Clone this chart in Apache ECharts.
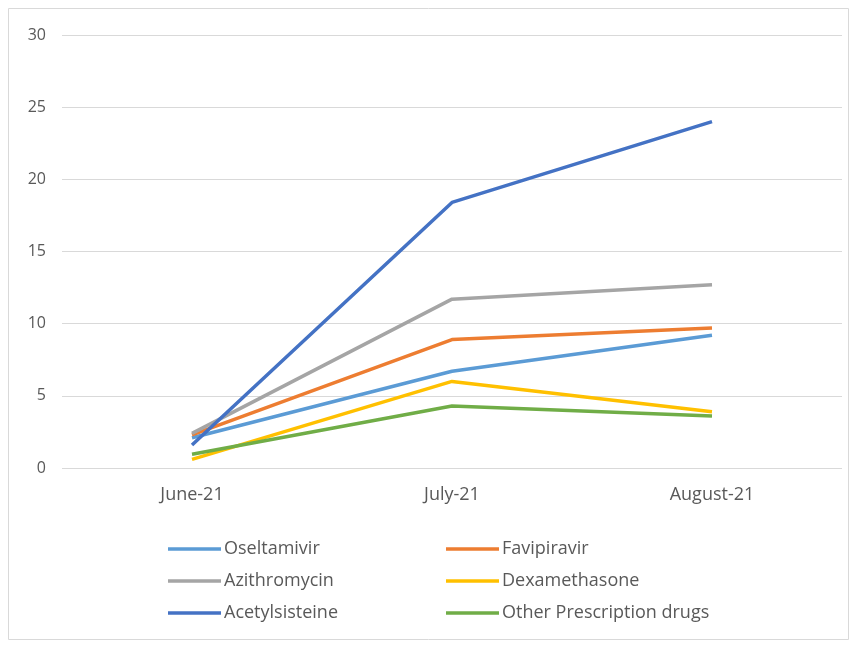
<!DOCTYPE html>
<html>
<head>
<meta charset="utf-8">
<script src="https://cdn.jsdelivr.net/npm/echarts@6/dist/echarts.min.js"></script>
<style>
html,body{margin:0;padding:0;background:#fff;}
#chart{width:857px;height:648px;}
</style>
</head>
<body>
<div id="chart"></div>
<script>
var categories = ['June-21', 'July-21', 'August-21'];
var yTicks = [0, 5, 10, 15, 20, 25, 30];
var oseltamivir = [2.1, 6.7, 9.2];
var favipiravir = [2.3, 8.9, 9.7];
var azithromycin = [2.4, 11.7, 12.7];
var dexamethasone = [0.6, 6.0, 3.9];
var acetylsisteine = [1.6, 18.4, 24.0];
var otherDrugs = [0.95, 4.3, 3.6];

var seriesNames = ['Oseltamivir', 'Favipiravir', 'Azithromycin', 'Dexamethasone', 'Acetylsisteine', 'Other Prescription drugs'];
var seriesData = [oseltamivir, favipiravir, azithromycin, dexamethasone, acetylsisteine, otherDrugs];
var colors = ['#5b9bd5', '#ed7d31', '#a5a5a5', '#ffc000', '#4472c4', '#70ad47'];

var chart = echarts.init(document.getElementById('chart'));
var font = 'Open Sans, Noto Sans, sans-serif';
var legendCommon = {
  orient: 'vertical',
  top: 535,
  itemWidth: 53,
  itemHeight: 18,
  itemGap: 14,
  icon: 'path://M0,7.2 L53,7.2 L53,10.8 L0,10.8 Z',
  textStyle: { color: '#595959', fontSize: 18, fontFamily: font, padding: [0, 0, 0, -2] }
};
chart.setOption({
  animation: false,
  color: colors,
  graphic: [{
    type: 'rect',
    shape: { x: 8.5, y: 8.5, width: 840, height: 631 },
    style: { fill: 'none', stroke: '#d9d9d9', lineWidth: 1 },
    silent: true
  }],
  grid: { left: 62, right: 15, top: 35, height: 433, containLabel: false },
  legend: [
    Object.assign({ left: 163, data: [seriesNames[0], seriesNames[2], seriesNames[4]] }, legendCommon),
    Object.assign({ left: 441, data: [seriesNames[1], seriesNames[3], seriesNames[5]] }, legendCommon)
  ],
  xAxis: {
    type: 'category',
    data: categories,
    boundaryGap: true,
    axisLine: { show: false },
    axisTick: { show: false },
    axisLabel: { color: '#595959', fontSize: 18, fontFamily: font, margin: 18 }
  },
  yAxis: {
    type: 'value',
    min: yTicks[0],
    max: yTicks[yTicks.length - 1],
    interval: yTicks[1] - yTicks[0],
    axisLine: { show: false },
    axisTick: { show: false },
    splitLine: { lineStyle: { color: '#d9d9d9', width: 1 } },
    axisLabel: { color: '#595959', fontSize: 16, fontFamily: font, margin: 16 }
  },
  series: seriesNames.map(function (n, i) {
    return {
      name: n,
      type: 'line',
      data: seriesData[i],
      symbol: 'none',
      lineStyle: { width: 3.5, color: colors[i] },
      itemStyle: { color: colors[i] }
    };
  })
});
</script>
</body>
</html>
